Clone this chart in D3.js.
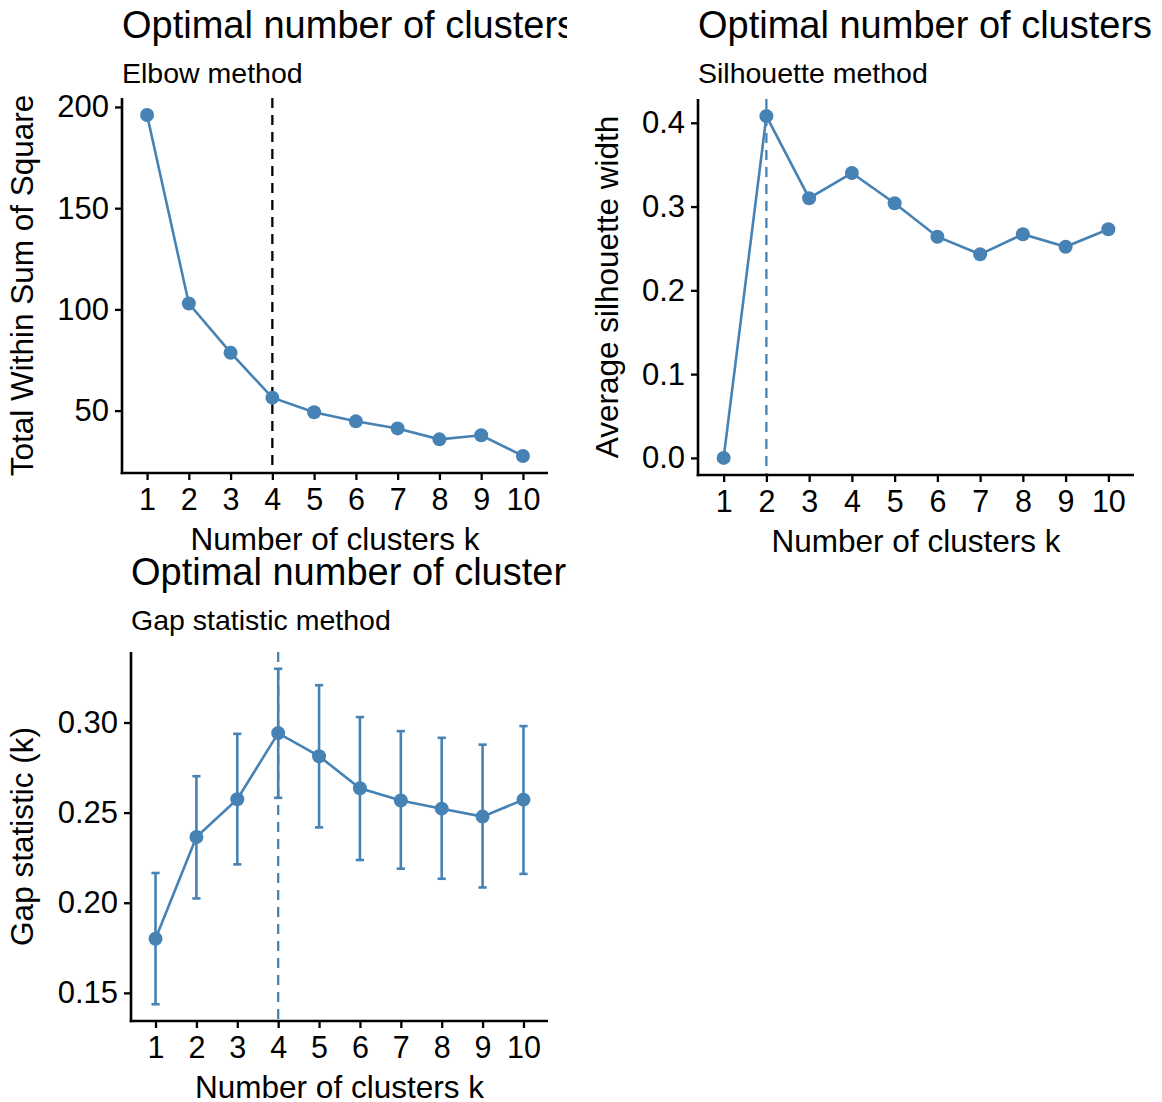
<!DOCTYPE html>
<html><head><meta charset="utf-8">
<script src="https://cdn.jsdelivr.net/npm/d3@7"></script>
<style>
body{margin:0;background:#fff}
svg{display:block}
text{font-family:"Liberation Sans",Arial,Helvetica,sans-serif;fill:#000}
</style>
</head><body>
<svg id="chart" width="1162" height="1102"></svg>
<script>
// ---------- data ----------
const kValues = [1, 2, 3, 4, 5, 6, 7, 8, 9, 10];
const xTickLabels = ["1", "2", "3", "4", "5", "6", "7", "8", "9", "10"];
const elbowWSS = [196.0, 102.9, 78.6, 56.4, 49.2, 44.7, 41.2, 35.8, 37.8, 27.6];
const silhouetteWidth = [0.000, 0.408, 0.310, 0.340, 0.304, 0.264, 0.243, 0.267, 0.252, 0.273];
const gapStat = [0.1800, 0.2365, 0.2574, 0.2941, 0.2813, 0.2635, 0.2567, 0.2522, 0.2478, 0.2572];
const gapLower = [0.1437, 0.2024, 0.2213, 0.2582, 0.2418, 0.2237, 0.2189, 0.2133, 0.2085, 0.2160];
const gapUpper = [0.2165, 0.2702, 0.2937, 0.3298, 0.3207, 0.3030, 0.2952, 0.2915, 0.2877, 0.2980];
const elbowTicks = [50, 100, 150, 200];
const silTicks = [0.0, 0.1, 0.2, 0.3, 0.4];
const gapTicks = [0.15, 0.20, 0.25, 0.30];
const elbowTickLabels = ["50", "100", "150", "200"];
const silTickLabels = ["0.0", "0.1", "0.2", "0.3", "0.4"];
const gapTickLabels = ["0.15", "0.20", "0.25", "0.30"];
const optimalK = [4, 2, 4];
const plotTitle = "Optimal number of clusters";
const subtitles = ["Elbow method", "Silhouette method", "Gap statistic method"];
const xTitle = "Number of clusters k";
const yTitles = ["Total Within Sum of Square", "Average silhouette width", "Gap statistic (k)"];

// ---------- styling ----------
const BLUE = "steelblue";
const svg = d3.select("#chart");
const defs = svg.append("defs");

function panel(cfg) {
  const clipId = "clip" + cfg.id;
  defs.append("clipPath").attr("id", clipId).append("rect")
    .attr("x", cfg.cell[0]).attr("y", cfg.cell[1]).attr("width", cfg.cell[2]).attr("height", cfg.cell[3]);
  const g = svg.append("g").attr("clip-path", `url(#${clipId})`);

  const x = d3.scaleLinear().domain([0.4, 10.6]).range([cfg.left, cfg.right]);
  const allY = cfg.extent;
  const lo = d3.min(allY), hi = d3.max(allY), pad = (hi - lo) * 0.05;
  const y = d3.scaleLinear().domain([lo - pad, hi + pad]).range([cfg.bottom, cfg.top]);

  // titles
  g.append("text").attr("x", cfg.left).attr("y", cfg.titleY)
    .attr("font-size", 38).text(plotTitle);
  g.append("text").attr("x", cfg.left).attr("y", cfg.titleY + 45)
    .attr("font-size", 28.5).text(cfg.subtitle);

  // dashed optimal line
  g.append("line")
    .attr("x1", x(cfg.optK)).attr("x2", x(cfg.optK))
    .attr("y1", cfg.top).attr("y2", cfg.bottom)
    .attr("stroke", cfg.dashColor).attr("stroke-width", 2.3)
    .attr("stroke-dasharray", "10,7");

  // error bars
  if (cfg.lower) {
    const eb = g.append("g").attr("stroke", BLUE).attr("stroke-width", 2.6).attr("fill", "none");
    kValues.forEach((k, i) => {
      const cx = x(k), w = 4.1;
      eb.append("line").attr("x1", cx).attr("x2", cx).attr("y1", y(cfg.lower[i])).attr("y2", y(cfg.upper[i]));
      eb.append("line").attr("x1", cx - w).attr("x2", cx + w).attr("y1", y(cfg.lower[i])).attr("y2", y(cfg.lower[i]));
      eb.append("line").attr("x1", cx - w).attr("x2", cx + w).attr("y1", y(cfg.upper[i])).attr("y2", y(cfg.upper[i]));
    });
  }

  // line
  const line = d3.line().x((d, i) => x(kValues[i])).y(d => y(d));
  g.append("path").datum(cfg.values).attr("d", line)
    .attr("fill", "none").attr("stroke", BLUE).attr("stroke-width", 2.6);

  // points
  g.selectAll(null).data(cfg.values).enter().append("circle")
    .attr("cx", (d, i) => x(kValues[i])).attr("cy", d => y(d)).attr("r", 7)
    .attr("fill", BLUE);

  // axes
  const xAxis = d3.axisBottom(x).tickValues(kValues).tickFormat((d, i) => xTickLabels[i])
    .tickSize(7).tickPadding(8).tickSizeOuter(0);
  const xa = g.append("g").attr("transform", `translate(0,${cfg.bottom})`).call(xAxis);
  xa.select(".domain").attr("stroke", "#000").attr("stroke-width", 2.6)
    .attr("d", `M${cfg.left - 1.3},0H${cfg.right}`);
  xa.selectAll(".tick line").attr("stroke", "#000").attr("stroke-width", 2.3);
  xa.selectAll(".tick text").attr("font-size", 30.5).attr("fill", "#000");

  const yAxis = d3.axisLeft(y).tickValues(cfg.ticks).tickFormat((d, i) => cfg.tickLabels[i])
    .tickSize(7).tickPadding(6).tickSizeOuter(0);
  const ya = g.append("g").attr("transform", `translate(${cfg.left},0)`).call(yAxis);
  ya.select(".domain").attr("stroke", "#000").attr("stroke-width", 2.6)
    .attr("d", `M0,${cfg.top}V${cfg.bottom + 1.3}`);
  ya.selectAll(".tick line").attr("stroke", "#000").attr("stroke-width", 2.3);
  ya.selectAll(".tick text").attr("font-size", 31).attr("fill", "#000");
  xa.attr("font-family", null); ya.attr("font-family", null);

  // axis titles
  g.append("text").attr("x", (cfg.left + cfg.right) / 2).attr("y", cfg.bottom + 77)
    .attr("text-anchor", "middle").attr("font-size", 31.5).text(xTitle);
  g.append("text")
    .attr("transform", `translate(${cfg.yTitleX},${(cfg.top + cfg.bottom) / 2}) rotate(-90)`)
    .attr("text-anchor", "middle").attr("font-size", 31.5).text(cfg.yTitle);
}

panel({
  id: 1, cell: [0, 0, 567, 560], left: 122, right: 548, top: 98, bottom: 473,
  titleY: 38, subtitle: subtitles[0], values: elbowWSS, extent: elbowWSS,
  ticks: elbowTicks, tickLabels: elbowTickLabels, optK: optimalK[0], dashColor: "#000",
  yTitle: yTitles[0], yTitleX: 33
});
panel({
  id: 2, cell: [581, 0, 581, 560], left: 698, right: 1134, top: 99, bottom: 475,
  titleY: 38, subtitle: subtitles[1], values: silhouetteWidth, extent: silhouetteWidth,
  ticks: silTicks, tickLabels: silTickLabels, optK: optimalK[1], dashColor: BLUE,
  yTitle: yTitles[1], yTitleX: 618
});
panel({
  id: 3, cell: [0, 551, 567, 551], left: 131, right: 548, top: 652, bottom: 1021,
  titleY: 585, subtitle: subtitles[2], values: gapStat, extent: gapLower.concat(gapUpper),
  lower: gapLower, upper: gapUpper,
  ticks: gapTicks, tickLabels: gapTickLabels, optK: optimalK[2], dashColor: BLUE,
  yTitle: yTitles[2], yTitleX: 33
});
</script>
</body></html>
